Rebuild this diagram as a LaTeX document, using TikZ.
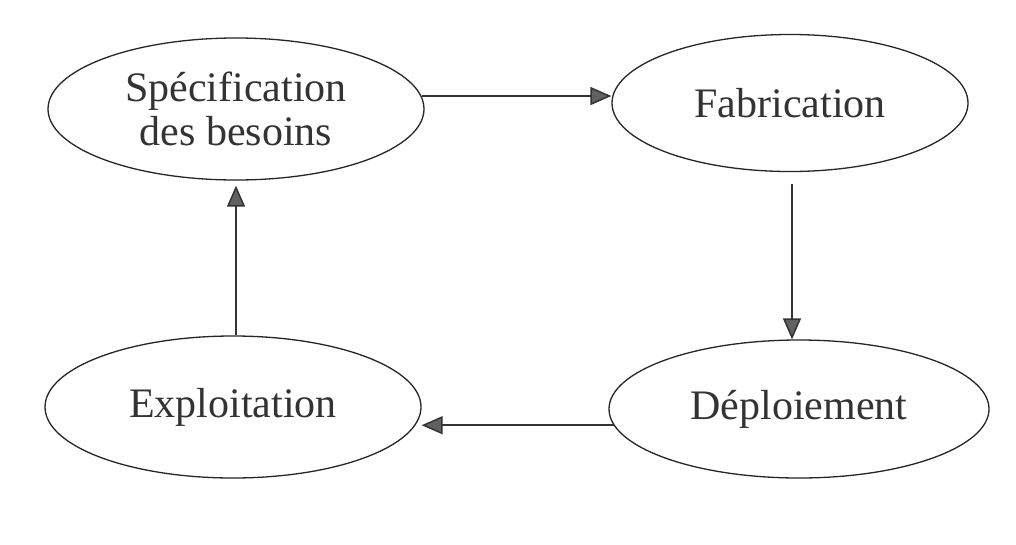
\documentclass[tikz,border=0pt]{standalone}
\usepackage{fontspec}
\setmainfont{Liberation Serif}
\usetikzlibrary{shapes.geometric,arrows.meta,calc}
\begin{document}
\begin{tikzpicture}[x=1pt,y=-1pt,
  stage/.style={ellipse,draw=black!85,line width=1.3pt,inner sep=0pt,
    align=center,text=black!80,font=\fontsize{42}{44}\selectfont},
  flow/.style={draw=black!80,line width=1.5pt,
    -{Triangle[length=21pt,width=18pt,fill=black!62]}}]
\useasboundingbox (0,0) rectangle (1016,544);
\fill[white] (0,0) rectangle (1016,544);

% the four stages of the cycle
\node[stage,minimum width=376pt,minimum height=142pt] (spec) at (236,109) {Spécification\\des besoins};
\node[stage,minimum width=356pt,minimum height=137pt] (fab) at (790,103) {Fabrication};
\node[stage,minimum width=376pt,minimum height=142pt] (expl) at (233,407) {Exploitation};
\node[stage,minimum width=380pt,minimum height=138pt] (dep) at (799,409) {Déploiement};

% transitions between the stages
\coordinate (fabout) at ($(fab.south)+(2,12)$);
\coordinate (explout) at ($(expl.north)+(3,0)$);
\draw[flow] (spec.4) -- (spec.4 -| fab.west);
\draw[flow] (fabout) -- (fabout |- dep.north);
\draw[flow] (dep.185) -- (dep.185 -| expl.east);
\draw[flow] (explout) -- ($(spec.south)+(0,5)$);
\end{tikzpicture}
\end{document}
